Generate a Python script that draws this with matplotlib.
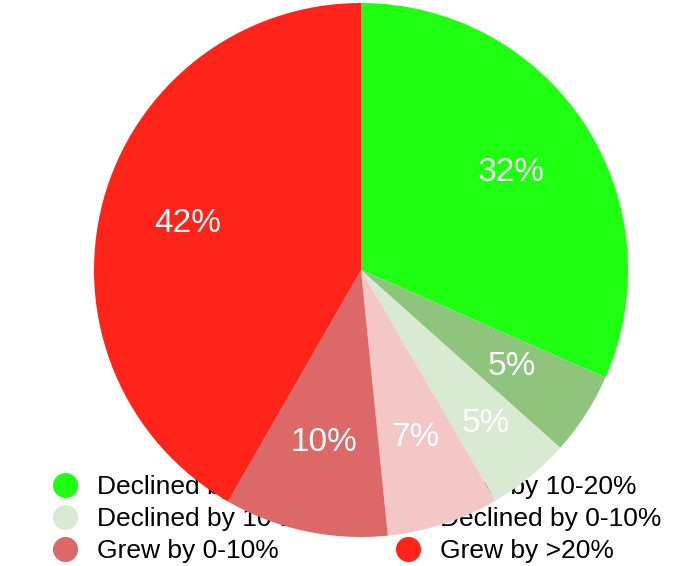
import matplotlib.pyplot as plt
import numpy as np
from matplotlib.lines import Line2D

labels = ['Declined by >20%', 'Grew by 10-20%', 'Declined by 10-20%',
          'Declined by 0-10%', 'Grew by 0-10%', 'Grew by >20%']
shares = [31.6, 5.0, 5.0, 6.8, 9.9, 41.7]
colors = ['#1eff12', '#8fc47c', '#d9ead3', '#f4c7c7', '#dd6868', '#ff2419']

# distance of each percentage label from the centre (fraction of radius)
label_r = [0.67, 0.67, 0.74, 0.66, 0.66, 0.67]

plt.rcParams['font.family'] = ['Liberation Sans', 'DejaVu Sans']

fig = plt.figure(figsize=(6.78, 5.66), dpi=100)
W, H = 678, 566
cx, cy, rad = 361, 270, 267
ax = fig.add_axes([(cx - rad) / W, (H - cy - rad) / H, 2 * rad / W, 2 * rad / H])

wedges, texts, autotexts = ax.pie(
    shares, colors=colors, startangle=90, counterclock=False,
    autopct=lambda p: '%d%%' % round(p), pctdistance=0.67,
    textprops={'color': 'white', 'fontsize': 24},
    wedgeprops={'linewidth': 0})
for w, t, r in zip(wedges, autotexts, label_r):
    ang = np.deg2rad((w.theta1 + w.theta2) / 2)
    t.set_position((r * np.cos(ang), r * np.sin(ang)))
ax.set_xlim(-1, 1)
ax.set_ylim(-1, 1)
ax.set_aspect('equal')
ax.axis('off')

def handle(c):
    return Line2D([], [], marker='o', linestyle='none', markersize=17,
                  markerfacecolor=c, markeredgecolor=c)

for col, x0 in [(0, 52), (1, 395)]:
    idx = [col, col + 2, col + 4]
    leg = fig.legend([handle(colors[i]) for i in idx], [labels[i] for i in idx],
                     loc='upper left', bbox_to_anchor=(x0 / W, 1 - 475 / H),
                     frameon=False, fontsize=19, handlelength=1.0,
                     handletextpad=0.7, labelspacing=0.3, borderpad=0,
                     borderaxespad=0)
    leg.set_zorder(-1)

fig.savefig('out.png', dpi=100)
